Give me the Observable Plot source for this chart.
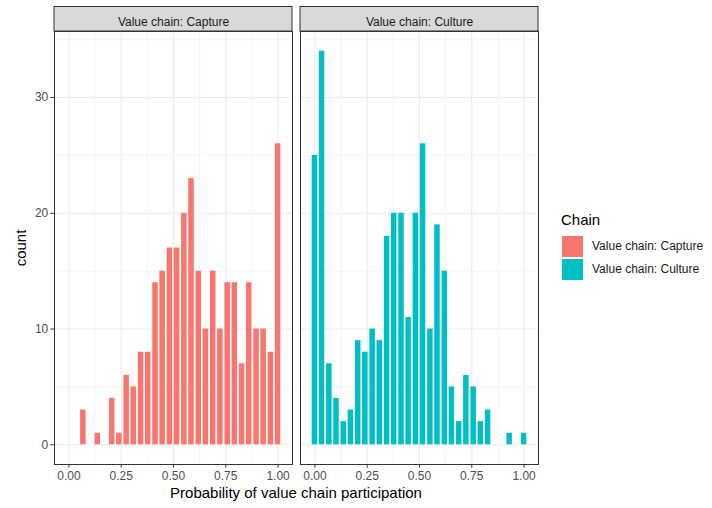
<!DOCTYPE html>
<html><head><meta charset="utf-8">
<script src="https://cdn.jsdelivr.net/npm/d3@7"></script>
<script src="https://cdn.jsdelivr.net/npm/@observablehq/plot@0.6"></script>
<style>
body{margin:0;background:#fff;font-family:"Liberation Sans",Arial,sans-serif}
#wrap{position:relative;width:712px;height:508px;overflow:hidden}
#chart{position:absolute;left:0;top:0}
.t{position:absolute;white-space:nowrap;color:#000}
</style></head><body>
<div id="wrap"><div id="chart"></div></div>
<script>
// ---- data ----
const chains = ["Value chain: Capture", "Value chain: Culture"];
const colors = ["#F8766D", "#00BFC4"];
const binCenters = [0.000,0.034,0.069,0.103,0.138,0.172,0.207,0.241,0.276,0.310,0.345,0.379,0.414,0.448,0.483,0.517,0.552,0.586,0.621,0.655,0.690,0.724,0.759,0.793,0.828,0.862,0.897,0.931,0.966,1.000];
const binWidth = 0.0345;
const captureCounts = [0,0,3,0,1,0,4,1,6,5,8,8,14,15,17,17,20,23,15,10,15,10,14,14,7,14,10,10,8,26];
const cultureCounts = [25,34,7,4,2,3,9,8,10,9,18,20,20,11,20,26,10,19,15,5,2,6,5,2,3,0,0,1,0,1];
const xTicks = [0, 0.25, 0.5, 0.75, 1];
const xTickLabels = ["0.00", "0.25", "0.50", "0.75", "1.00"];
const xMinor = [0.125, 0.375, 0.625, 0.875];
const yTicks = [0, 10, 20, 30];
const yMinor = [5, 15, 25, 35];
const xTitle = "Probability of value chain participation";
const yTitle = "count";
const legendTitle = "Chain";

const seriesCounts = [captureCounts, cultureCounts];
const rows = [];
chains.forEach((c, k) => seriesCounts[k].forEach((n, i) => {
  if (n > 0) rows.push({chain: c, x1: binCenters[i] - binWidth / 2, x2: binCenters[i] + binWidth / 2, count: n});
}));

const plot = Plot.plot({
  width: 545, height: 508,
  marginLeft: 54, marginRight: 7, marginTop: 31, marginBottom: 44,
  style: {fontFamily: "'Liberation Sans', Arial, sans-serif", fontSize: "12px", background: "white", overflow: "visible"},
  fx: {domain: chains, paddingInner: 0.0345, paddingOuter: 0, label: null},
  x: {domain: [-0.069, 1.069]},
  y: {domain: [-1.7, 35.7]},
  color: {domain: chains, range: colors},
  marks: [
    Plot.gridX(xMinor, {stroke: "#EBEBEB", strokeOpacity: 1, strokeWidth: 0.55}),
    Plot.gridY(yMinor, {stroke: "#EBEBEB", strokeOpacity: 1, strokeWidth: 0.55}),
    Plot.gridX(xTicks, {stroke: "#EBEBEB", strokeOpacity: 1, strokeWidth: 1.1}),
    Plot.gridY(yTicks, {stroke: "#EBEBEB", strokeOpacity: 1, strokeWidth: 1.1}),
    Plot.rectY(rows, {fx: "chain", x1: "x1", x2: "x2", y1: 0, y2: "count", fill: "chain", insetLeft: 0.85, insetRight: 0.85}),
    Plot.frame({stroke: "#333333", strokeWidth: 1}),
    Plot.axisX({ticks: xTicks, tickFormat: (d, i) => xTickLabels[xTicks.indexOf(d)], tickSize: 3.7, tickPadding: 3, label: null, stroke: "#333333", fill: "#4D4D4D", fontSize: 12}),
    Plot.axisY({ticks: yTicks, tickSize: 3.7, tickPadding: 2.5, label: null, stroke: "#333333", fill: "#4D4D4D", fontSize: 12}),
    Plot.axisFx({anchor: "top", tickSize: 0, tickPadding: 6, label: null, fill: "#1A1A1A", fontSize: 12})
  ]
});
document.getElementById("chart").appendChild(plot);

// strip backgrounds behind facet labels
const fxs = plot.scale("fx");
const svg = d3.select(plot.tagName.toLowerCase() === "svg" ? plot : plot.querySelector("svg"));
const first = svg.node().firstElementChild;
chains.forEach(c => {
  const x0 = fxs.apply(c);
  const r = document.createElementNS("http://www.w3.org/2000/svg", "rect");
  r.setAttribute("x", x0); r.setAttribute("y", 6.5);
  r.setAttribute("width", fxs.bandwidth); r.setAttribute("height", 24.5);
  r.setAttribute("fill", "#D9D9D9"); r.setAttribute("stroke", "#333333"); r.setAttribute("stroke-width", 1);
  svg.node().insertBefore(r, svg.node().querySelector("style") ? svg.node().querySelector("style").nextSibling : first);
});

// titles and legend
const wrap = d3.select("#wrap");
wrap.append("div").attr("class", "t").style("left", "0px").style("width", "592px").style("top", "485px")
  .style("text-align", "center").style("font-size", "15px").style("line-height", "15px").text(xTitle);
wrap.append("div").attr("class", "t").style("left", "20px").style("top", "248px")
  .style("font-size", "15px").style("line-height", "15px")
  .style("transform", "translate(-50%,-50%) rotate(-90deg)").text(yTitle);
wrap.append("div").attr("class", "t").style("left", "561px").style("top", "212px")
  .style("font-size", "15px").style("line-height", "15px").text(legendTitle);
chains.forEach((c, k) => {
  wrap.append("div").style("position", "absolute").style("left", "562px").style("top", (236 + 23 * k) + "px")
    .style("width", "21px").style("height", "21px").style("background", colors[k]);
  wrap.append("div").attr("class", "t").style("left", "592px").style("top", (236 + 23 * k) + "px")
    .style("font-size", "12px").style("line-height", "21px").style("color", "#1A1A1A").text(c);
});
</script>
</body></html>
